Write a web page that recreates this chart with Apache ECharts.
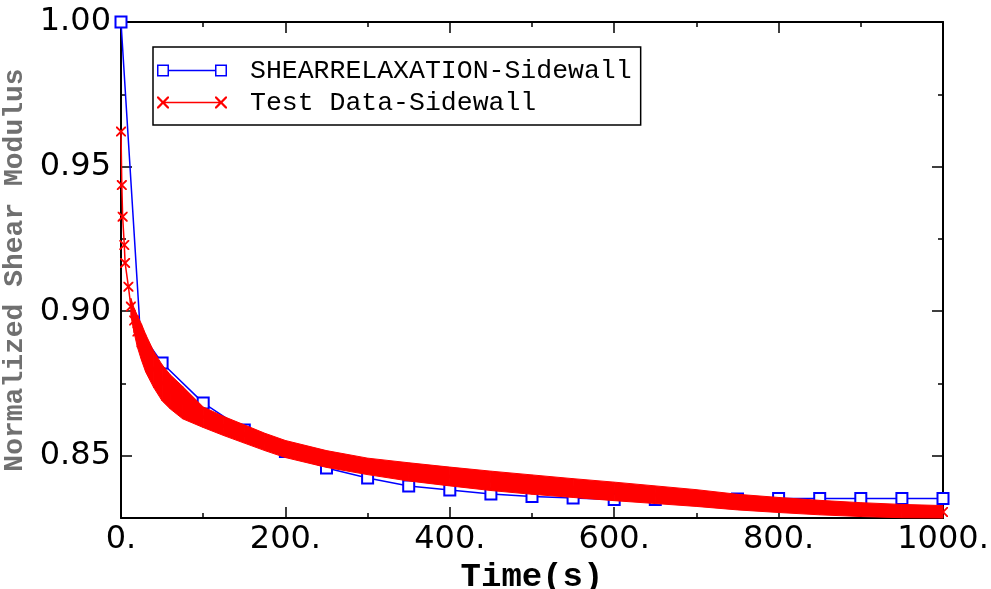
<!DOCTYPE html>
<html>
<head>
<meta charset="utf-8">
<script src="https://cdn.jsdelivr.net/npm/echarts@6/dist/echarts.min.js"></script>
<style>
html,body{margin:0;padding:0;background:#fff;}
#chart{width:991px;height:589px;}
</style>
</head>
<body>
<div id="chart"></div>
<script>
// ---- data ----
const blueName = 'SHEARRELAXATION-Sidewall';
const testName = 'Test Data-Sidewall';

const blueTime  = [0, 22, 23, 36, 50, 100, 150, 200, 250, 300, 350, 400, 450, 500, 550, 600, 650, 700, 750, 800, 850, 900, 950, 1000];
const blueValue = [1.0, 0.8995, 0.8935, 0.8877, 0.8821, 0.8683, 0.8589, 0.8515, 0.8458, 0.8423, 0.8396, 0.8382, 0.8368, 0.8359, 0.8354, 0.8349, 0.8349, 0.8350, 0.8351, 0.8352, 0.8352, 0.8352, 0.8352, 0.8352];
const blueMarked = [true, false, false, false, true, true, true, true, true, true, true, true, true, true, true, true, true, true, true, true, true, true, true, true];

const testTime  = [0, 1, 2, 4, 5, 9, 12, 16, 20, 25, 30, 40, 50, 60, 75, 100, 125, 150, 175, 200, 250, 300, 350, 400, 450, 500, 550, 600, 650, 700, 750, 800, 850, 900, 950, 1000];
const testValue = [0.9621, 0.9436, 0.9327, 0.9229, 0.9167, 0.9085, 0.9016, 0.8968, 0.8930, 0.8893, 0.8855, 0.8798, 0.8752, 0.8721, 0.8684, 0.8634, 0.8603, 0.8575, 0.8548, 0.8524, 0.8489, 0.8465, 0.8445, 0.8428, 0.8414, 0.8401, 0.8389, 0.8377, 0.8366, 0.8354, 0.8340, 0.8330, 0.8321, 0.8314, 0.8309, 0.8306];

// spread of the measured test data (band of overlapping points)
const bandTime  = [12, 16, 20, 25, 30, 40, 50, 60, 75, 100, 125, 150, 175, 200, 250, 300, 350, 400, 450, 500, 550, 600, 650, 700, 750, 800, 850, 900, 950, 1000];
const bandUpper = [0.9045, 0.9010, 0.8985, 0.8955, 0.8920, 0.8860, 0.8815, 0.8780, 0.8740, 0.8669, 0.8636, 0.8607, 0.8578, 0.8553, 0.8518, 0.8492, 0.8476, 0.8461, 0.8447, 0.8434, 0.8421, 0.8409, 0.8396, 0.8383, 0.8367, 0.8356, 0.8346, 0.8338, 0.8332, 0.8328];
const bandLower = [0.8985, 0.8925, 0.8875, 0.8830, 0.8790, 0.8735, 0.8690, 0.8662, 0.8628, 0.8598, 0.8570, 0.8544, 0.8518, 0.8494, 0.8460, 0.8435, 0.8413, 0.8396, 0.8380, 0.8367, 0.8356, 0.8345, 0.8335, 0.8325, 0.8313, 0.8304, 0.8296, 0.8290, 0.8286, 0.8285];

const xMin = 0, xMax = 1000, xStep = 200;
const yMin = 0.8285, yMax = 1.0;
const yMajorTicks = [0.85, 0.90, 0.95, 1.00];
const yMinorTicks = [0.875, 0.925, 0.975];

// ---- styles ----
const BLUE = '#0000ff', RED = '#ff0000';
const xMarker = 'path://M0,0L1.3,0L5,3.7L8.7,0L10,0L10,1.3L6.3,5L10,8.7L10,10L8.7,10L5,6.3L1.3,10L0,10L0,8.7L3.7,5L0,1.3Z';
const blueLegendIcon = 'path://M0,0H12V12H0Z M1.5,1.5V10.5H10.5V1.5Z M12,5.25H58V6.75H12Z M58,0H70V12H58Z M59.5,1.5V10.5H68.5V1.5Z';
const redLegendIcon = 'path://M0,0L1.6,0L6,4.4L10.4,0L12,0L12,1.6L7.6,6L12,10.4L12,12L10.4,12L6,7.6L1.6,12L0,12L0,10.4L4.4,6L0,1.6Z M6,5.25H64V6.75H6Z M58,0L59.6,0L64,4.4L68.4,0L70,0L70,1.6L65.6,6L70,10.4L70,12L68.4,12L64,7.6L59.6,12L58,12L58,10.4L62.4,6L58,1.6Z';

const blueData = blueTime.map((t, i) => ({ value: [t, blueValue[i]], symbol: blueMarked[i] ? 'emptyRect' : 'none' }));
const testData = testTime.map((t, i) => [t, testValue[i]]);
const bandData = bandTime.map((t, i) => [t, bandLower[i], bandUpper[i]]);

const axisLineStyle = { show: true, lineStyle: { color: '#000', width: 2 } };
const tickLine = { color: '#000', width: 1.5 };
const labelFont = { fontFamily: 'DejaVu Sans', fontSize: 32, color: '#000' };

function xAx(position, withLabels) {
  return {
    type: 'value', position, min: xMin, max: xMax, interval: xStep,
    axisLine: axisLineStyle,
    axisTick: { show: true, inside: true, length: 11, lineStyle: tickLine },
    minorTick: { show: true, splitNumber: 2, length: 5, lineStyle: tickLine },
    axisLabel: withLabels ? Object.assign({ show: true, margin: 6, formatter: v => v + '.' }, labelFont) : { show: false },
    splitLine: { show: false }, minorSplitLine: { show: false }
  };
}
function yAx(position, major, withLabels) {
  return {
    type: 'value', position, min: yMin, max: yMax,
    axisLine: major ? axisLineStyle : { show: false },
    axisTick: { show: true, inside: true, length: major ? 11 : 5, lineStyle: tickLine, customValues: major ? yMajorTicks : yMinorTicks },
    axisLabel: withLabels ? Object.assign({ show: true, margin: 10, customValues: yMajorTicks, formatter: v => v.toFixed(2) }, labelFont) : { show: false },
    splitLine: { show: false }
  };
}

const xAxes = [xAx('bottom', true), xAx('top', false)];
Object.assign(xAxes[0], {
  name: 'Time(s)', nameLocation: 'middle', nameGap: 35,
  nameTextStyle: { fontFamily: 'Liberation Mono', fontWeight: 'bold', fontSize: 34, color: '#000' }
});
const yAxes = [yAx('left', true, true), yAx('left', false, false), yAx('right', true, false), yAx('right', false, false)];
Object.assign(yAxes[0], {
  name: 'Normalized Shear Modulus', nameLocation: 'middle', nameGap: 85,
  nameTextStyle: { fontFamily: 'Liberation Mono', fontWeight: 'bold', fontSize: 28, color: '#707070' }
});

const chart = echarts.init(document.getElementById('chart'), null, { renderer: 'canvas' });
chart.setOption({
  backgroundColor: '#fff',
  animation: false,
  grid: { left: 121, right: 48, top: 22, bottom: 71, containLabel: false, outerBoundsMode: 'none' },
  xAxis: xAxes,
  yAxis: yAxes,
  legend: {
    left: 153, top: 47, orient: 'vertical', z: 10,
    padding: [10, 9, 9, 4], itemGap: 5,
    itemWidth: 70, itemHeight: 12,
    borderColor: '#000', borderWidth: 1.5, backgroundColor: '#fff',
    textStyle: { fontFamily: 'Liberation Mono', fontSize: 26.5, color: '#000', lineHeight: 26, padding: [0, 0, 0, 18] },
    data: [
      { name: blueName, icon: blueLegendIcon, itemStyle: { color: BLUE, borderWidth: 0 } },
      { name: testName, icon: redLegendIcon, itemStyle: { color: RED, borderWidth: 0 } }
    ]
  },
  series: [
    {
      name: blueName, type: 'line', data: blueData, clip: false, z: 2,
      symbolSize: 11,
      itemStyle: { color: BLUE, borderColor: BLUE, borderWidth: 1.5 },
      lineStyle: { color: BLUE, width: 1.5 }
    },
    {
      name: 'testBand', type: 'custom', data: bandData, silent: true, z: 3,
      encode: { x: 0, y: [1, 2] },
      renderItem: function (params, api) {
        const i = params.dataIndex;
        if (i >= bandTime.length - 1) return null;
        const pts = [
          api.coord([bandTime[i], bandUpper[i]]),
          api.coord([bandTime[i + 1], bandUpper[i + 1]]),
          api.coord([bandTime[i + 1], bandLower[i + 1]]),
          api.coord([bandTime[i], bandLower[i]])
        ];
        return { type: 'polygon', shape: { points: pts }, style: { fill: RED, stroke: RED, lineWidth: 1 } };
      }
    },
    {
      name: testName, type: 'line', data: testData, clip: false, z: 4,
      symbol: xMarker, symbolSize: 10,
      itemStyle: { color: RED, borderWidth: 0 },
      lineStyle: { color: RED, width: 1.5 }
    }
  ]
});
</script>
</body>
</html>
